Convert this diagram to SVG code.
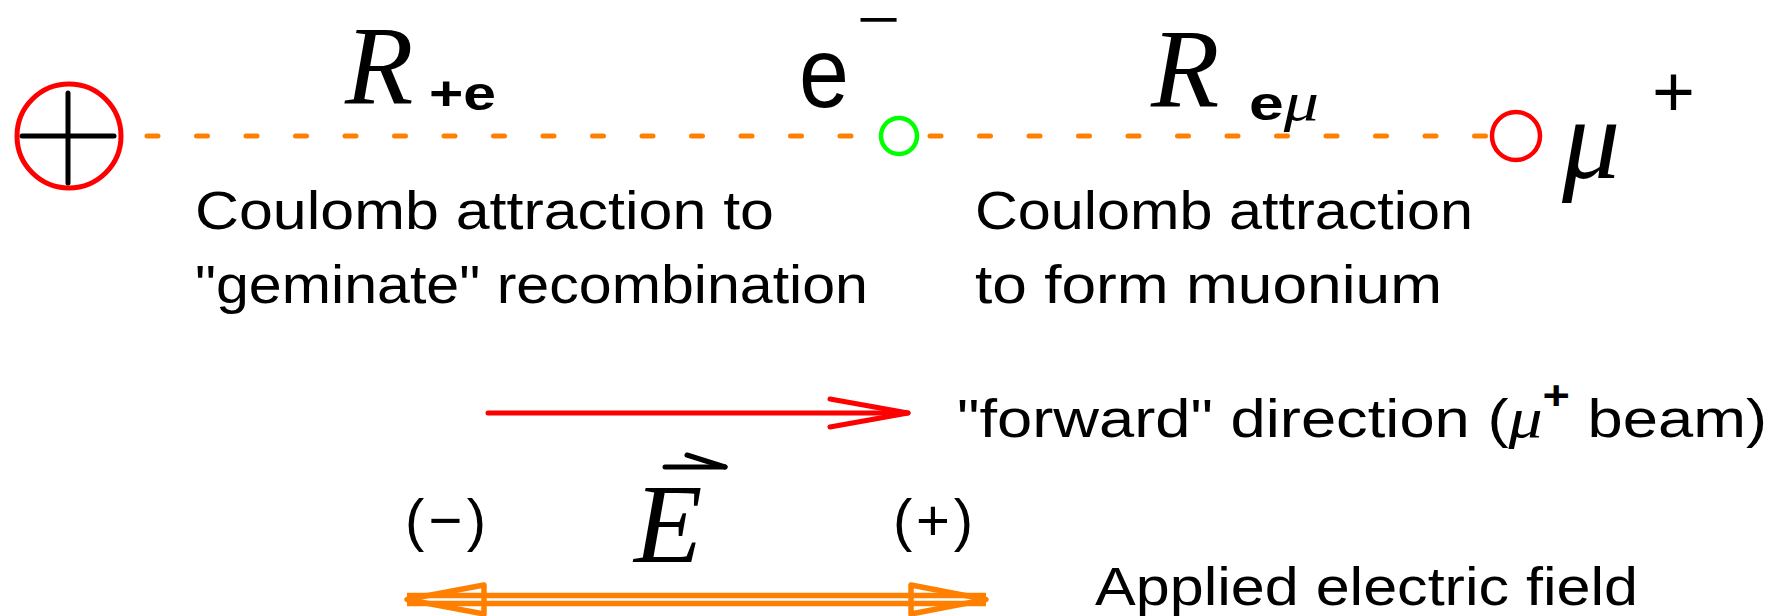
<svg xmlns="http://www.w3.org/2000/svg" width="1777" height="616" viewBox="0 0 1777 616">
<style>
.sans{font-family:"Liberation Sans","DejaVu Sans",sans-serif;fill:#000}
.serif{font-family:"Liberation Serif","DejaVu Serif",serif;font-style:italic;fill:#000}
.lbl{font-size:54px}
.sub{font-size:48px;font-weight:bold}
.dash{stroke:#ff8000;stroke-width:5;stroke-linecap:round;stroke-dasharray:11 38.5;fill:none}
.ink{stroke:#000;stroke-width:5;stroke-linecap:round;fill:none}
.red{stroke:#ff0000;stroke-width:5;stroke-linecap:round;stroke-linejoin:round;fill:none}
.orange{stroke:#ff8000;stroke-width:5.5;fill:none}
</style>
<rect width="1777" height="616" fill="#fff"/>
<g id="connectors">
  <line class="dash" x1="147" y1="136" x2="885" y2="136"/>
  <line class="dash" x1="930" y1="136" x2="1488" y2="136"/>
  <g id="forward-arrow">
    <line class="red" x1="488" y1="413" x2="908" y2="413"/>
    <polyline class="red" points="830,399 908,413 830,427"/>
  </g>
  <g id="field-arrow">
    <line class="orange" x1="407" y1="595.5" x2="986" y2="595.5"/>
    <line class="orange" x1="407" y1="603.5" x2="986" y2="603.5"/>
    <polygon class="orange" stroke-width="5" stroke-linejoin="round" points="407,599.5 484,585 484,614"/>
    <polygon class="orange" stroke-width="5" stroke-linejoin="round" points="986,599.5 911,585 911,614"/>
  </g>
</g>
<g id="node-positive-ion">
  <circle cx="69" cy="136" r="52" fill="none" stroke="#ff0000" stroke-width="5"/>
  <line class="ink" x1="22" y1="136" x2="114" y2="136"/>
  <line class="ink" x1="68" y1="93" x2="68" y2="183"/>
</g>
<g id="node-electron">
  <circle cx="899" cy="136" r="18" fill="none" stroke="#00ff00" stroke-width="4.5"/>
  <text class="sans" x="799" y="107" font-size="100" textLength="50" lengthAdjust="spacingAndGlyphs">e</text>
  <text class="sans" x="858" y="31" font-size="34" font-weight="bold" textLength="42" lengthAdjust="spacingAndGlyphs">−</text>
</g>
<g id="node-muon">
  <circle cx="1516" cy="136" r="24" fill="none" stroke="#ff0000" stroke-width="4.5"/>
  <text class="serif" x="1562" y="178" font-size="116">μ</text>
  <text class="sans" x="1652" y="116" font-size="72" textLength="43" lengthAdjust="spacingAndGlyphs">+</text>
</g>
<g id="label-R-plus-e">
  <text class="serif" x="345" y="103" font-size="112">R</text>
  <text class="sans sub" x="429" y="110" textLength="67" lengthAdjust="spacingAndGlyphs">+e</text>
</g>
<g id="label-R-e-mu">
  <text class="serif" x="1151" y="106" font-size="112">R</text>
  <text class="sans sub" x="1249" y="120" textLength="70" lengthAdjust="spacingAndGlyphs">e<tspan class="serif" font-weight="normal" font-size="54">μ</tspan></text>
</g>
<g id="label-geminate">
  <text class="sans lbl" x="195" y="229" textLength="579" lengthAdjust="spacingAndGlyphs">Coulomb attraction to</text>
  <text class="sans lbl" x="195" y="303" textLength="673" lengthAdjust="spacingAndGlyphs">"geminate" recombination</text>
</g>
<g id="label-muonium">
  <text class="sans lbl" x="975" y="229" textLength="498" lengthAdjust="spacingAndGlyphs">Coulomb attraction</text>
  <text class="sans lbl" x="975" y="303" textLength="467" lengthAdjust="spacingAndGlyphs">to form muonium</text>
</g>
<g id="label-forward">
  <text class="sans lbl" x="957" y="437" textLength="810" lengthAdjust="spacingAndGlyphs">"forward" direction (<tspan class="serif" font-size="58">μ</tspan><tspan font-size="40" font-weight="bold" dy="-28">+</tspan><tspan dy="28"> beam)</tspan></text>
</g>
<g id="label-field">
  <text class="sans" x="405" y="540" font-size="58" textLength="81">(−)</text>
  <text class="sans" x="893" y="540" font-size="58" textLength="80">(+)</text>
  <text class="serif" x="634" y="562" font-size="112">E</text>
  <line class="ink" x1="665" y1="467" x2="725" y2="467"/>
  <line class="ink" x1="687" y1="455" x2="725" y2="467"/>
  <text class="sans lbl" x="1095" y="605" textLength="543" lengthAdjust="spacingAndGlyphs">Applied electric field</text>
</g>
</svg>
